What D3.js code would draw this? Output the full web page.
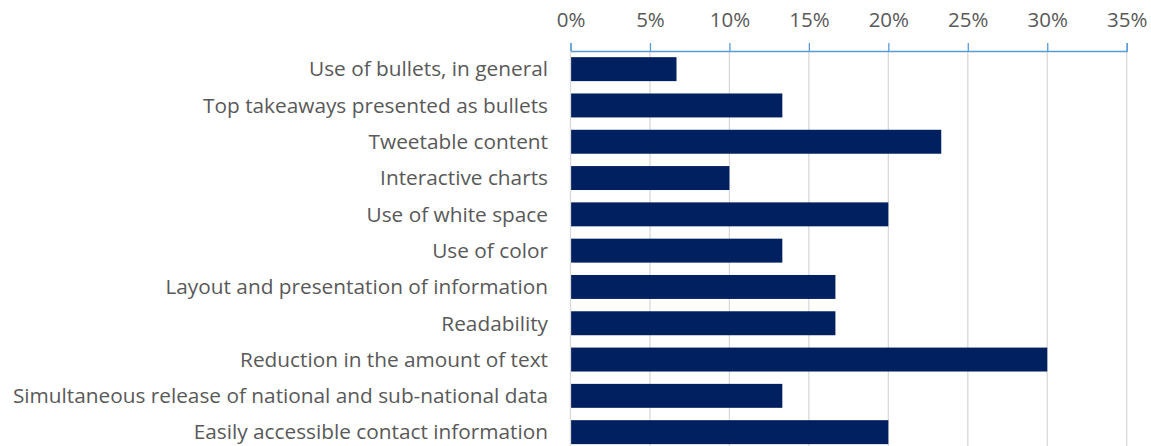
<!DOCTYPE html>
<html>
<head>
<meta charset="utf-8">
<script src="https://cdn.jsdelivr.net/npm/d3@7"></script>
<style>
  html, body { margin: 0; padding: 0; background: #ffffff; }
  svg { display: block; }
</style>
</head>
<body>
<svg id="chart" width="1151" height="446"></svg>
<script>
// Survey features, top to bottom
const categories = [
  "Use of bullets, in general",
  "Top takeaways presented as bullets",
  "Tweetable content",
  "Interactive charts",
  "Use of white space",
  "Use of color",
  "Layout and presentation of information",
  "Readability",
  "Reduction in the amount of text",
  "Simultaneous release of national and sub-national data",
  "Easily accessible contact information"
];
// Share of respondents (fraction)
const shares = [0.0667, 0.1333, 0.2333, 0.10, 0.20, 0.1333, 0.1667, 0.1667, 0.30, 0.1333, 0.20];
const tickValues = [0, 0.05, 0.10, 0.15, 0.20, 0.25, 0.30, 0.35];

const svg = d3.select("#chart");
const fontFamily = "'Open Sans', 'Liberation Sans', sans-serif";
const textColor = "#595959";

const x = d3.scaleLinear().domain([0, 0.35]).range([570.5, 1126.7]);
const y = d3.scaleBand().domain(categories).range([51, 450.3]).paddingInner(0.34).paddingOuter(0.17);

// vertical gridlines
svg.append("g")
  .selectAll("line")
  .data(tickValues.slice(1))
  .join("line")
  .attr("x1", d => x(d)).attr("x2", d => x(d))
  .attr("y1", 51).attr("y2", 446)
  .attr("stroke", "#d9d9d9")
  .attr("stroke-width", 1.3);

// bars
svg.append("g")
  .selectAll("rect")
  .data(categories)
  .join("rect")
  .attr("x", x(0))
  .attr("y", d => y(d))
  .attr("width", (d, i) => x(shares[i]) - x(0))
  .attr("height", y.bandwidth())
  .attr("fill", "#002060");

// top axis
const axis = d3.axisTop(x)
  .tickValues(tickValues)
  .tickFormat(d3.format(".0%"))
  .tickSize(8)
  .tickPadding(16);

const ax = svg.append("g")
  .attr("transform", "translate(0,51)")
  .call(axis);
ax.select(".domain").attr("stroke", "#5b9bd5").attr("stroke-width", 1.3);
ax.selectAll(".tick line").attr("stroke", "#5b9bd5").attr("stroke-width", 1.3);
ax.selectAll(".tick text")
  .attr("fill", textColor)
  .style("font-family", fontFamily)
  .style("font-size", "20.5px");

// left axis line at zero
svg.append("line")
  .attr("x1", x(0)).attr("x2", x(0))
  .attr("y1", 51).attr("y2", 446)
  .attr("stroke", "#d9d9d9")
  .attr("stroke-width", 1.3);

// category labels
svg.append("g")
  .selectAll("text")
  .data(categories)
  .join("text")
  .attr("x", 548)
  .attr("y", d => y(d) + y.bandwidth() / 2)
  .attr("dy", "0.35em")
  .attr("text-anchor", "end")
  .attr("fill", textColor)
  .style("font-family", fontFamily)
  .style("font-size", "20.8px")
  .text(d => d);
</script>
</body>
</html>
